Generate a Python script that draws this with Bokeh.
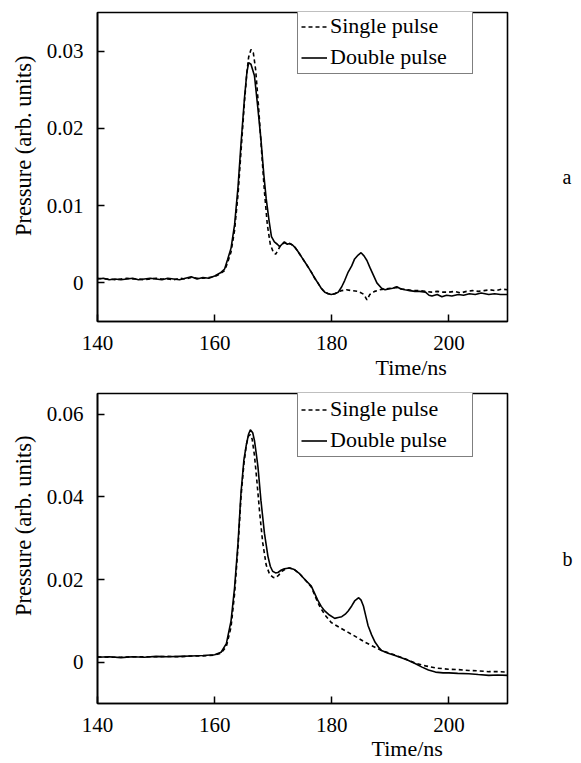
from bokeh.plotting import figure
from bokeh.layouts import column
from bokeh.models import Range1d, FixedTicker, Legend, LegendItem, Title, LinearAxis
from bokeh.embed import file_html
from bokeh.resources import INLINE

# ---------------- data: panel a ----------------
t_a_double = [140, 141, 142, 143, 144, 145, 146, 147, 148, 149, 150, 151, 152, 153, 154, 155, 156, 157, 158, 159,
              160, 161, 161.7, 162.2, 162.8, 163.4, 164, 164.5, 165.1, 165.5, 165.8, 166.2, 166.8, 167.3, 167.9,
              168.4, 168.8, 169.3, 169.7, 170.2, 170.7, 171.1, 171.5, 171.9, 172.4, 172.8, 173.3, 173.7, 174.2,
              174.8, 175.4, 176, 176.5, 177.1, 177.7, 178.2, 178.8, 179.4, 179.9, 180.5, 181.1, 181.7, 182.2,
              182.8, 183.4, 183.9, 184.5, 185, 185.5, 186, 186.5, 187.1, 187.7, 188.5, 189.1, 189.7, 190.4,
              191.1, 191.8, 192.5, 193.3, 194.2, 195, 196, 196.6, 197.1, 198, 198.8, 199.6, 200.5, 201.6,
              202.5, 203.5, 204.5, 205.5, 206.8, 207.8, 208.8, 210]
p_a_double = [0.0005, 0.0006, 0.0004, 0.0005, 0.0004, 0.0005, 0.0006, 0.0004, 0.0005, 0.0006, 0.0005, 0.0004,
              0.0006, 0.0005, 0.0004, 0.0006, 0.0008, 0.0005, 0.0007, 0.0006, 0.0009, 0.0013, 0.0018, 0.0030,
              0.0045, 0.0075, 0.0125, 0.0180, 0.0240, 0.0272, 0.0285, 0.0283, 0.0268, 0.0232, 0.0186, 0.0140,
              0.0109, 0.0080, 0.0060, 0.0053, 0.0050, 0.0047, 0.0050, 0.0053, 0.0050, 0.0051, 0.0049, 0.0046,
              0.0041, 0.0034, 0.0027, 0.0020, 0.0014, 0.0006, -0.0001, -0.0007, -0.0012, -0.0014, -0.0015,
              -0.0014, -0.0012, -0.0005, 0.0003, 0.0014, 0.0022, 0.0031, 0.0036, 0.0039, 0.0035, 0.0029, 0.0020,
              0.0010, 0.0000, -0.0007, -0.0009, -0.0008, -0.0007, -0.0005, -0.0008, -0.0009, -0.0010, -0.0011,
              -0.0011, -0.0012, -0.0016, -0.0017, -0.0015, -0.0018, -0.0016, -0.0017, -0.0015, -0.0016, -0.0014,
              -0.0015, -0.0013, -0.0015, -0.0014, -0.0015, -0.0015]

t_a_single = [140, 141, 142, 143, 144, 145, 146, 147, 148, 149, 150, 151, 152, 153, 154, 155, 156, 157, 158, 159,
              160, 161, 161.7, 162.2, 162.8, 163.4, 164, 164.5, 165.1, 165.5, 165.8, 166.2, 166.6, 167, 167.5,
              168, 168.5, 169, 169.5, 170, 170.4, 170.8, 171.3, 171.9, 172.4, 172.8, 173.3, 173.7, 174.2, 174.8,
              175.4, 176, 176.5, 177.1, 177.7, 178.2, 178.8, 179.4, 180, 180.5, 181.1, 181.7, 182.5, 183.4,
              184.5, 185.5, 186, 186.5, 187.3, 188.2, 189, 190, 191, 192, 193, 194, 195, 196, 197, 198, 199,
              200, 201, 202, 203, 204, 205, 206, 207, 208, 209, 210]
p_a_single = [0.0006, 0.0005, 0.0005, 0.0004, 0.0005, 0.0006, 0.0005, 0.0005, 0.0004, 0.0005, 0.0006, 0.0005,
              0.0005, 0.0004, 0.0006, 0.0005, 0.0007, 0.0006, 0.0006, 0.0007, 0.0008, 0.0012, 0.0016, 0.0026,
              0.0040, 0.0068, 0.0115, 0.0170, 0.0235, 0.0272, 0.0292, 0.0302, 0.0298, 0.0276, 0.0228, 0.0172,
              0.0118, 0.0075, 0.0050, 0.0040, 0.0037, 0.0042, 0.0049, 0.0052, 0.0050, 0.0051, 0.0049, 0.0046,
              0.0041, 0.0034, 0.0027, 0.0020, 0.0014, 0.0006, -0.0001, -0.0007, -0.0012, -0.0014, -0.0015,
              -0.0014, -0.0012, -0.0010, -0.0009, -0.0010, -0.0011, -0.0015, -0.0022, -0.0015, -0.0011, -0.0009,
              -0.0008, -0.0007, -0.0006, -0.0008, -0.0009, -0.0010, -0.0010, -0.0011, -0.0012, -0.0011, -0.0012,
              -0.0012, -0.0011, -0.0013, -0.0011, -0.0010, -0.0011, -0.0010, -0.0009, -0.0010, -0.0008, -0.0009]

# ---------------- data: panel b ----------------
t_b_double = [140, 142, 144, 146, 148, 150, 152, 154, 156, 158, 160, 161.1, 162, 162.8, 163.4, 164, 164.5, 165,
              165.4, 165.8, 166.1, 166.5, 166.8, 167.1, 167.4, 167.9, 168.5, 169.1, 169.5, 169.9, 170.4, 170.8,
              171.4, 171.9, 172.8, 173.6, 174.5, 175.4, 176.5, 177.6, 178.2, 178.8, 179.6, 180.5, 181.1, 181.7,
              182.3, 182.8, 183.4, 183.9, 184.6, 185, 185.4, 185.8, 186.2, 186.8, 187.4, 188, 188.5, 189.5,
              190.8, 192, 193.1, 194.3, 195.4, 196.5, 197.7, 199, 200, 201.5, 203.4, 205, 206.8, 208.3, 210]
p_b_double = [0.0012, 0.0013, 0.0011, 0.0013, 0.0012, 0.0014, 0.0013, 0.0014, 0.0015, 0.0016, 0.0018, 0.0024,
              0.0045, 0.0100, 0.0180, 0.0290, 0.0410, 0.0490, 0.0525, 0.0552, 0.0562, 0.0555, 0.0536, 0.0505,
              0.0472, 0.0392, 0.0312, 0.0256, 0.0232, 0.0220, 0.0216, 0.0217, 0.0223, 0.0226, 0.0228, 0.0224,
              0.0214, 0.0200, 0.0184, 0.0150, 0.0135, 0.0124, 0.0114, 0.0106, 0.0108, 0.0110, 0.0116, 0.0124,
              0.0136, 0.0148, 0.0156, 0.0150, 0.0136, 0.0112, 0.0088, 0.0066, 0.0048, 0.0036, 0.0028, 0.0022,
              0.0016, 0.0010, 0.0004, -0.0004, -0.0012, -0.0019, -0.0024, -0.0026, -0.0026, -0.0027, -0.0028,
              -0.0030, -0.0032, -0.0031, -0.0032]

t_b_single = [140, 142, 144, 146, 148, 150, 152, 154, 156, 158, 160, 161.1, 162, 162.8, 163.4, 164, 164.5, 165,
              165.4, 165.8, 166.1, 166.4, 166.8, 167.2, 167.7, 168.2, 168.8, 169.4, 170, 170.4, 170.9, 171.5,
              172.2, 172.8, 173.6, 174.5, 175.4, 176.5, 177.3, 177.9, 178.8, 179.9, 181.3, 182.8, 184.3, 185.7,
              187.1, 188.5, 189.8, 191, 192.5, 194.2, 196, 197.7, 199.9, 201.6, 203.4, 205, 206.8, 208.5, 210]
p_b_single = [0.0013, 0.0012, 0.0012, 0.0013, 0.0013, 0.0013, 0.0014, 0.0013, 0.0015, 0.0015, 0.0017, 0.0022,
              0.0038, 0.0085, 0.0165, 0.0280, 0.0400, 0.0480, 0.0525, 0.0548, 0.0550, 0.0540, 0.0500, 0.0440,
              0.0360, 0.0290, 0.0235, 0.0212, 0.0205, 0.0204, 0.0210, 0.0220, 0.0226, 0.0228, 0.0224, 0.0214,
              0.0200, 0.0182, 0.0155, 0.0136, 0.0115, 0.0096, 0.0084, 0.0072, 0.0060, 0.0048, 0.0038, 0.0028,
              0.0022, 0.0016, 0.0008, -0.0002, -0.0009, -0.0014, -0.0017, -0.0018, -0.0020, -0.0021, -0.0023,
              -0.0023, -0.0024]

x_ticks = [140, 160, 180, 200]
y_ticks_a = [0, 0.01, 0.02, 0.03]
y_labels_a = ["0", "0.01", "0.02", "0.03"]
y_ticks_b = [0, 0.02, 0.04, 0.06]
y_labels_b = ["0", "0.02", "0.04", "0.06"]
series_names = ["Single pulse", "Double pulse"]
x_title = "Time/ns"
y_title = "Pressure (arb. units)"

FONT = "Liberation Serif, Times New Roman, DejaVu Serif, serif"
LETTER_POS = 0.467   # fraction of the frame height where the panel letter sits


def make_panel(height, border_top, frame_h, y_range, y_ticks, y_labels,
               t_single, p_single, t_double, p_double, letter,
               xlab_offset, xlab_standoff, ylab_offset, legend_loc):
    p = figure(width=581, height=height, output_backend="svg", toolbar_location=None,
               x_range=Range1d(140, 210), y_range=Range1d(*y_range),
               min_border_left=97, min_border_right=74, min_border_top=border_top,
               min_border_bottom=height - border_top - frame_h)
    p.background_fill_color = "white"
    p.border_fill_color = "white"
    p.outline_line_color = "black"
    p.outline_line_width = 1.6
    p.xgrid.visible = False
    p.ygrid.visible = False

    for ax, ticks in ((p.xaxis[0], x_ticks), (p.yaxis[0], y_ticks)):
        ax.ticker = FixedTicker(ticks=ticks)
        ax.minor_tick_line_color = None
        ax.major_tick_in = 7
        ax.major_tick_out = 0
        ax.major_tick_line_width = 1.5
        ax.major_tick_line_color = "black"
        ax.axis_line_color = "black"
        ax.axis_line_width = 1.6
        ax.major_label_text_font = FONT
        ax.major_label_text_font_size = "21px"
        ax.major_label_text_color = "black"
    p.xaxis[0].major_label_standoff = 14
    p.yaxis[0].major_label_standoff = 14
    p.yaxis[0].major_label_overrides = dict(zip(y_ticks, y_labels))

    # panel letter, drawn as the only tick label of an empty right axis
    p.extra_y_ranges = {"letter": Range1d(0, 1)}
    right = LinearAxis(y_range_name="letter", ticker=FixedTicker(ticks=[LETTER_POS]),
                       major_label_overrides={LETTER_POS: letter},
                       axis_line_color=None, major_tick_line_color=None, minor_tick_line_color=None,
                       major_tick_out=0, major_tick_in=0, minor_tick_out=0, minor_tick_in=0,
                       major_label_standoff=55, major_label_text_font=FONT,
                       major_label_text_font_size="20px", major_label_text_color="black")
    p.add_layout(right, "right")

    p.add_layout(Title(text=x_title, align="left", offset=xlab_offset, vertical_align="top",
                       standoff=xlab_standoff, text_font=FONT, text_font_size="22px",
                       text_font_style="normal", text_color="black"), "below")
    p.add_layout(Title(text=y_title, align="right", offset=ylab_offset, vertical_align="bottom",
                       standoff=16, text_font=FONT, text_font_size="22.5px",
                       text_font_style="normal", text_color="black"), "left")

    r_s = p.line(t_single, p_single, line_color="black", line_width=1.6, line_dash="4 3")
    r_d = p.line(t_double, p_double, line_color="black", line_width=1.6)

    legend = Legend(items=[LegendItem(label=series_names[0], renderers=[r_s]),
                           LegendItem(label=series_names[1], renderers=[r_d])],
                    location=legend_loc)
    legend.label_text_font = FONT
    legend.label_text_font_size = "22px"
    legend.label_text_color = "black"
    legend.border_line_color = "black"
    legend.border_line_width = 1.5
    legend.background_fill_color = "white"
    legend.background_fill_alpha = 1
    legend.padding = 3
    legend.margin = 0
    legend.spacing = 5
    legend.label_height = 23
    legend.glyph_height = 23
    legend.glyph_width = 26
    legend.label_standoff = 3
    legend.label_width = 139
    p.add_layout(legend, "center")
    return p


p1 = make_panel(384, 12, 310, (-0.005, 0.035), y_ticks_a, y_labels_a,
                t_a_single, p_a_single, t_a_double, p_a_double, "a",
                xlab_offset=278, xlab_standoff=5, ylab_offset=43, legend_loc=(200, 247))
p2 = make_panel(379, 9, 311, (-0.01, 0.065), y_ticks_b, y_labels_b,
                t_b_single, p_b_single, t_b_double, p_b_double, "b",
                xlab_offset=274, xlab_standoff=2, ylab_offset=42, legend_loc=(200, 246))

page = column(p1, p2, spacing=0)
open("out.html", "w").write(file_html(page, INLINE))
